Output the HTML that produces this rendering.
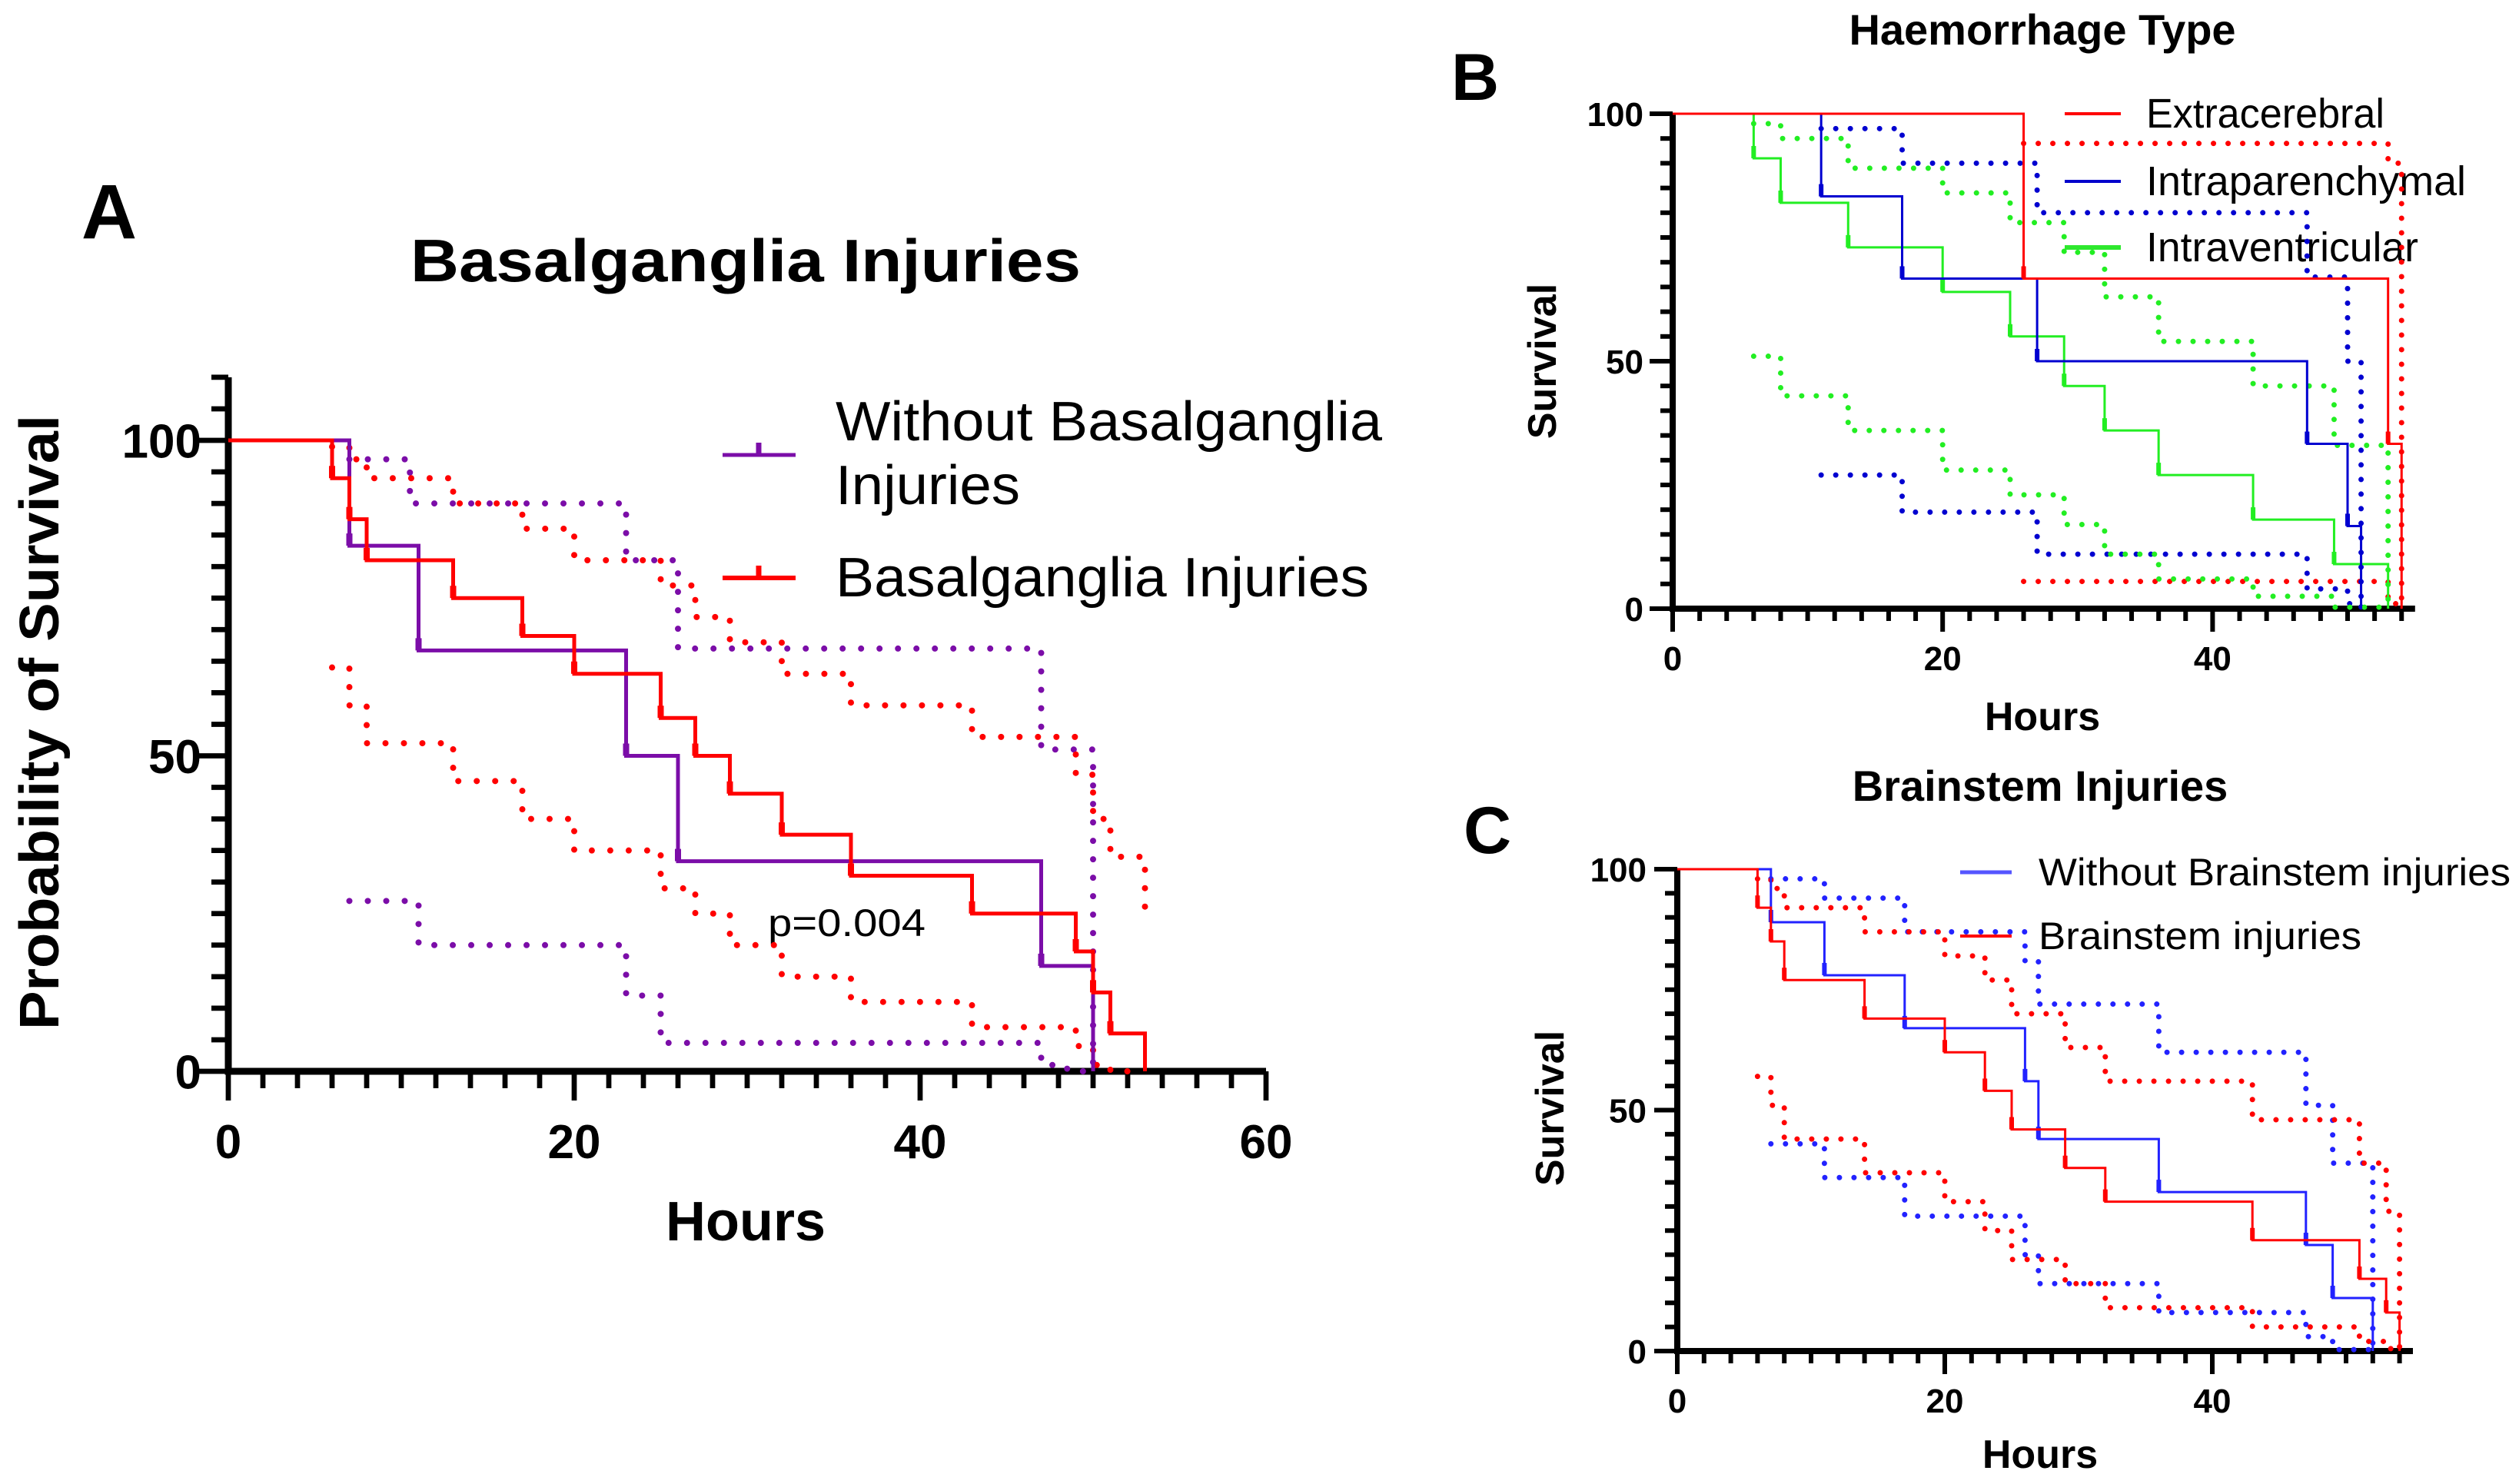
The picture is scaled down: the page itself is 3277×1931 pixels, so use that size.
<!DOCTYPE html>
<html><head><meta charset="utf-8"><style>
html,body{margin:0;padding:0;background:#fff;}
svg{display:block;font-family:"Liberation Sans",Arial,sans-serif;}
</style></head><body>
<svg id="fig" width="3277" height="1931" viewBox="0 0 3277 1931" xmlns="http://www.w3.org/2000/svg">
<rect width="3277" height="1931" fill="#fff"/>
<text x="142" y="310" font-size="100" font-weight="bold" text-anchor="middle">A</text>
<text x="970" y="366" font-size="78" font-weight="bold" text-anchor="middle" textLength="872" lengthAdjust="spacingAndGlyphs">Basalganglia Injuries</text>
<text transform="translate(76,940) rotate(-90)" font-size="72" font-weight="bold" text-anchor="middle" textLength="800" lengthAdjust="spacingAndGlyphs">Probability of Survival</text>
<text x="970" y="1614" font-size="72" font-weight="bold" text-anchor="middle">Hours</text>
<text x="999" y="1218" font-size="50" textLength="205" lengthAdjust="spacingAndGlyphs">p=0.004</text>
<g>
<line x1="940" y1="592" x2="1035" y2="592" stroke="#7B0DA8" stroke-width="5"/>
<line x1="987" y1="592" x2="987" y2="576" stroke="#7B0DA8" stroke-width="7"/>
<text x="1087" y="573" font-size="72" textLength="711" lengthAdjust="spacingAndGlyphs">Without Basalganglia</text>
<text x="1087" y="656" font-size="72" textLength="240" lengthAdjust="spacingAndGlyphs">Injuries</text>
<line x1="940" y1="752" x2="1035" y2="752" stroke="#f00" stroke-width="6"/>
<line x1="987" y1="752" x2="987" y2="736" stroke="#f00" stroke-width="7"/>
<text x="1087" y="776" font-size="72" textLength="694" lengthAdjust="spacingAndGlyphs">Basalganglia Injuries</text>
</g>
<text x="1919" y="130" font-size="86" font-weight="bold" text-anchor="middle">B</text>
<text x="2657" y="58" font-size="56" font-weight="bold" text-anchor="middle">Haemorrhage Type</text>
<text transform="translate(2024,470) rotate(-90)" font-size="52" font-weight="bold" text-anchor="middle">Survival</text>
<text x="2657" y="950" font-size="52" font-weight="bold" text-anchor="middle">Hours</text>
<g>
<line x1="2686" y1="148" x2="2759" y2="148" stroke="#f00" stroke-width="4"/>
<text x="2792" y="166" font-size="54" textLength="310" lengthAdjust="spacingAndGlyphs">Extracerebral</text>
<line x1="2686" y1="236" x2="2759" y2="236" stroke="#0000cc" stroke-width="4"/>
<text x="2792" y="254" font-size="54" textLength="416" lengthAdjust="spacingAndGlyphs">Intraparenchymal</text>
<line x1="2686" y1="322" x2="2759" y2="322" stroke="#2ee82e" stroke-width="6"/>
<text x="2792" y="340" font-size="54" textLength="354" lengthAdjust="spacingAndGlyphs">Intraventricular</text>
</g>
<text x="1935" y="1110" font-size="86" font-weight="bold" text-anchor="middle">C</text>
<text x="2654" y="1042" font-size="56" font-weight="bold" text-anchor="middle">Brainstem Injuries</text>
<text transform="translate(2034,1442) rotate(-90)" font-size="52" font-weight="bold" text-anchor="middle">Survival</text>
<text x="2654" y="1910" font-size="52" font-weight="bold" text-anchor="middle">Hours</text>
<g>
<line x1="2550" y1="1135" x2="2617" y2="1135" stroke="#5555ff" stroke-width="5"/>
<text x="2652" y="1152" font-size="50" textLength="614" lengthAdjust="spacingAndGlyphs">Without Brainstem injuries</text>
<line x1="2550" y1="1218" x2="2617" y2="1218" stroke="#f00" stroke-width="4"/>
<text x="2652" y="1235" font-size="50" textLength="420" lengthAdjust="spacingAndGlyphs">Brainstem injuries</text>
</g>
<g id="marks"></g>
</svg>
<script>
// Panel A data
const aPurpleT = [0, 7, 11, 23, 26, 47, 50];
const aPurpleS = [100, 83.3, 66.7, 50, 33.3, 16.7, 0];
const aPurpleUpT = [7, 10.5, 23, 26, 47, 50];
const aPurpleUpS = [97, 90, 81, 67, 51, 0];
const aPurpleLoT = [7, 11, 23, 25, 47, 48.5, 50];
const aPurpleLoS = [27, 20, 12, 4.5, 1, 0, 0];
const aRedT = [0, 6, 7, 8, 13, 17, 20, 25, 27, 29, 32, 36, 43, 49, 50, 51, 53];
const aRedS = [100, 94, 87.5, 81, 75, 69, 63, 56, 50, 44, 37.5, 31, 25, 19, 12.5, 6, 0];
const aRedUpT = [6, 7, 8, 13, 17, 20, 25, 27, 29, 32, 36, 43, 49, 50, 51, 53];
const aRedUpS = [99, 97, 94, 90, 86, 81, 77, 72, 68, 63, 58, 53, 47, 40, 34, 24];
const aRedLoT = [6, 7, 8, 13, 17, 20, 25, 27, 29, 32, 36, 43, 49, 50, 51, 53];
const aRedLoS = [64, 58, 52, 46, 40, 35, 29, 25, 20, 15, 11, 7, 4, 1, 0, 0];
// Panel B data
const bRedT = [0, 26, 53, 54];
const bRedS = [100, 66.7, 33.3, 0];
const bRedUpT = [26, 53, 54];
const bRedUpS = [94, 90, 0];
const bRedLoT = [26, 53, 54];
const bRedLoS = [5.5, 1, 0];
const bBlueT = [0, 11, 17, 27, 47, 50, 51];
const bBlueS = [100, 83.3, 66.7, 50, 33.3, 16.7, 0];
const bBlueUpT = [11, 17, 27, 47, 50, 51];
const bBlueUpS = [97, 90, 80, 67, 50, 0];
const bBlueLoT = [11, 17, 27, 47, 50, 51];
const bBlueLoS = [27, 19.5, 11, 4, 1, 0];
const bGreenT = [0, 6, 8, 13, 20, 25, 29, 32, 36, 43, 49, 53];
const bGreenS = [100, 91, 82, 73, 64, 55, 45, 36, 27, 18, 9, 0];
const bGreenUpT = [6, 8, 13, 20, 25, 29, 32, 36, 43, 49, 53];
const bGreenUpS = [98, 95, 89, 84, 78, 72, 63, 54, 45, 33, 0];
const bGreenLoT = [6, 8, 13, 20, 25, 29, 32, 36, 43, 49, 53];
const bGreenLoS = [51, 43, 36, 28, 23, 17, 11, 6, 2.5, 0.3, 0];
// Panel C data
const cBlueT = [0, 7, 11, 17, 26, 27, 36, 47, 49, 52];
const cBlueS = [100, 89, 78, 67, 56, 44, 33, 22, 11, 0];
const cBlueUpT = [7, 11, 17, 26, 27, 36, 47, 49, 52];
const cBlueUpS = [98, 94, 87, 81, 72, 62, 51, 39, 0];
const cBlueLoT = [7, 11, 17, 26, 27, 36, 47, 49, 52];
const cBlueLoS = [43, 36, 28, 20, 14, 8, 3, 0.3, 0];
const cRedT = [0, 6, 7, 8, 14, 20, 23, 25, 29, 32, 43, 51, 53, 54];
const cRedS = [100, 92, 85, 77, 69, 62, 54, 46, 38, 31, 23, 15, 8, 0];
const cRedUpT = [6, 7, 8, 14, 20, 23, 25, 29, 32, 43, 51, 53, 54];
const cRedUpS = [98, 96, 92, 87, 82, 77, 70, 63, 56, 48, 39, 29, 0];
const cRedLoT = [6, 7, 8, 14, 20, 23, 25, 29, 32, 43, 51, 53, 54];
const cRedLoS = [57, 51, 44, 37, 31, 25, 19, 14, 9, 5, 2, 0.5, 0];

const NS = 'http://www.w3.org/2000/svg';
const root = document.getElementById('marks');
function mkEl(tag, attrs, parent) {
  const e = document.createElementNS(NS, tag);
  for (const k in attrs) e.setAttribute(k, attrs[k]);
  (parent || root).appendChild(e);
  return e;
}
function scale(x0, xu, y0, y100) {
  return { x: t => x0 + t * xu, y: s => y0 + (y100 - y0) * s / 100 };
}
function stepPath(sc, T, S) {
  let d = 'M' + sc.x(T[0]) + ' ' + sc.y(S[0]);
  for (let i = 1; i < T.length; i++) d += ' H' + sc.x(T[i]) + ' V' + sc.y(S[i]);
  return d;
}
function curve(sc, T, S, color, w, name) {
  const p = mkEl('path', { d: stepPath(sc, T, S), fill: 'none', stroke: color, 'stroke-width': w });
  
  
  for (let i = 1; i < T.length - 1; i++) {
    const m = mkEl('line', { x1: sc.x(T[i]), x2: sc.x(T[i]), y1: sc.y(S[i]), y2: sc.y(S[i]) - 16, stroke: color, 'stroke-width': w + 3 });
    
    
  }
}
function ci(sc, T, S, color, w, gap, name) {
  const p = mkEl('path', { d: stepPath(sc, T, S), fill: 'none', stroke: color, 'stroke-width': w, 'stroke-dasharray': '0 ' + gap, 'stroke-linecap': 'round' });
  
  
}
function axes(sc, xMax, yTop, xTicks, yTicks, aw, fs, majLen, minLen, xLabY, yLabX, name) {
  const g = mkEl('g', {});
  
  
  for (let t = 0; t <= xMax + 0.01; t += 2) {
    const maj = xTicks.indexOf(t) >= 0;
    mkEl('line', { x1: sc.x(t), x2: sc.x(t), y1: sc.y(0), y2: sc.y(0) + (maj ? majLen : minLen), stroke: '#000', 'stroke-width': aw * 0.75 }, g);
  }
  for (let s = 0; s <= yTop + 0.01; s += 5) {
    const maj = yTicks.indexOf(s) >= 0;
    mkEl('line', { x1: sc.x(0), x2: sc.x(0) - (maj ? majLen : minLen), y1: sc.y(s), y2: sc.y(s), stroke: '#000', 'stroke-width': aw * 0.75 }, g);
  }
  mkEl('line', { x1: sc.x(0), x2: sc.x(0), y1: sc.y(0) + aw / 2, y2: sc.y(yTop), stroke: '#000', 'stroke-width': aw }, g);
  mkEl('line', { x1: sc.x(0) - aw / 2, x2: sc.x(xMax), y1: sc.y(0), y2: sc.y(0), stroke: '#000', 'stroke-width': aw }, g);
  xTicks.forEach(t => {
    const tx = mkEl('text', { x: sc.x(t), y: xLabY, 'font-size': fs, 'font-weight': 'bold', 'text-anchor': 'middle' }, g);
    tx.textContent = t;
    
    
  });
  yTicks.forEach(s => {
    const tx = mkEl('text', { x: yLabX, y: sc.y(s) + fs * 0.36, 'font-size': fs, 'font-weight': 'bold', 'text-anchor': 'end' }, g);
    tx.textContent = s;
    
    
  });
}
const PUR = '#7B0DA8', RED = '#ff0000', BLU = '#0000d0', GRN = '#22ee22', DBLU = '#2222ff';
const sA = scale(297, 22.5, 1394, 573);
axes(sA, 60, 110, [0, 20, 40, 60], [0, 50, 100], 9, 62, 38, 22, 1507, 262, 'panel-a-axes');
ci(sA, aPurpleUpT, aPurpleUpS, PUR, 8, 24, 'a-without-upper-ci');
ci(sA, aPurpleLoT, aPurpleLoS, PUR, 8, 24, 'a-without-lower-ci');
ci(sA, aRedUpT, aRedUpS, RED, 8, 24, 'a-basal-upper-ci');
ci(sA, aRedLoT, aRedLoS, RED, 8, 24, 'a-basal-lower-ci');
curve(sA, aPurpleT, aPurpleS, PUR, 5, 'a-without-basalganglia-curve');
curve(sA, aRedT, aRedS, RED, 5, 'a-basalganglia-curve');
const sB = scale(2176, 17.56, 792, 148);
axes(sB, 55, 100, [0, 20, 40], [0, 50, 100], 8, 44, 30, 16, 872, 2138, 'panel-b-axes');
ci(sB, bRedUpT, bRedUpS, RED, 7, 19, 'b-extra-upper-ci');
ci(sB, bRedLoT, bRedLoS, RED, 7, 19, 'b-extra-lower-ci');
ci(sB, bBlueUpT, bBlueUpS, BLU, 7, 19, 'b-intrapar-upper-ci');
ci(sB, bBlueLoT, bBlueLoS, BLU, 7, 19, 'b-intrapar-lower-ci');
ci(sB, bGreenUpT, bGreenUpS, GRN, 7, 19, 'b-intravent-upper-ci');
ci(sB, bGreenLoT, bGreenLoS, GRN, 7, 19, 'b-intravent-lower-ci');
curve(sB, bGreenT, bGreenS, GRN, 3, 'b-intraventricular-curve');
curve(sB, bBlueT, bBlueS, BLU, 3, 'b-intraparenchymal-curve');
curve(sB, bRedT, bRedS, RED, 3, 'b-extracerebral-curve');
const sC = scale(2182, 17.4, 1758, 1131);
axes(sC, 55, 100, [0, 20, 40], [0, 50, 100], 8, 44, 30, 16, 1838, 2142, 'panel-c-axes');
ci(sC, cBlueUpT, cBlueUpS, DBLU, 7, 19, 'c-without-upper-ci');
ci(sC, cBlueLoT, cBlueLoS, DBLU, 7, 19, 'c-without-lower-ci');
ci(sC, cRedUpT, cRedUpS, RED, 7, 19, 'c-brainstem-upper-ci');
ci(sC, cRedLoT, cRedLoS, RED, 7, 19, 'c-brainstem-lower-ci');
curve(sC, cBlueT, cBlueS, DBLU, 3, 'c-without-brainstem-curve');
curve(sC, cRedT, cRedS, RED, 3, 'c-brainstem-curve');
</script>
</body></html>
